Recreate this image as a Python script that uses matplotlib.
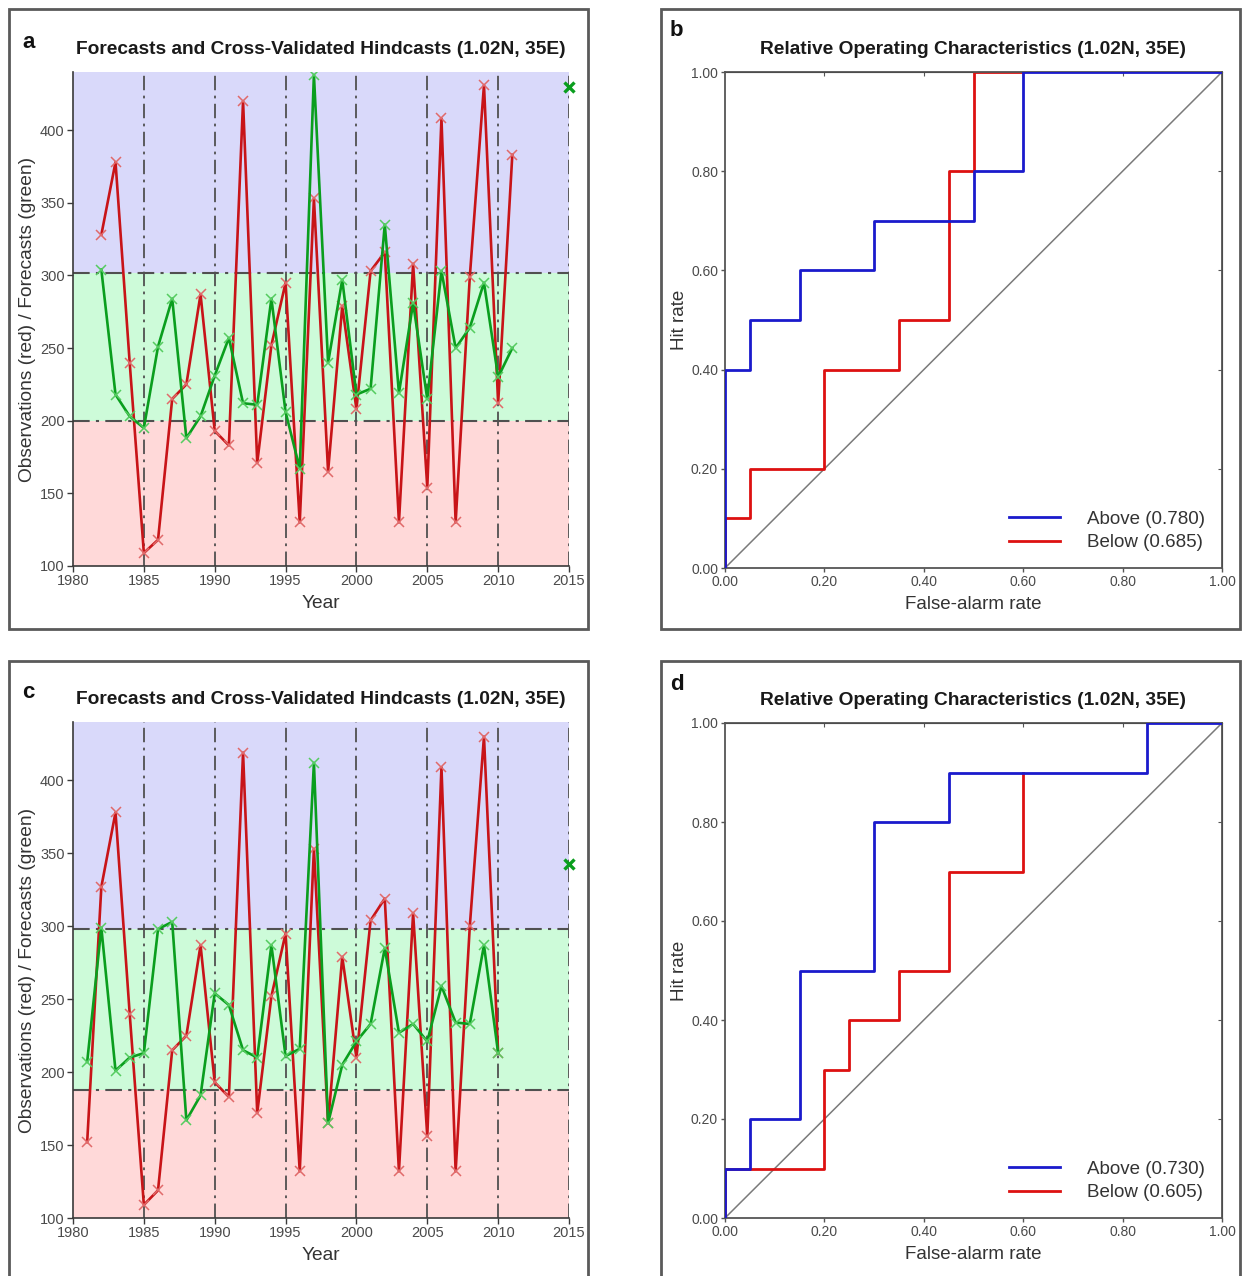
import numpy as np
import matplotlib
matplotlib.use("Agg")
import matplotlib.pyplot as plt
from matplotlib.patches import Rectangle
from matplotlib import font_manager

# ---- data ----
years_a = np.arange(1982, 2012)
obs_a = [328, 378, 240, 109, 118, 215, 225, 287, 193, 183, 420, 171, 252, 295, 130,
         353, 165, 279, 208, 303, 316, 130, 308, 154, 408, 130, 299, 431, 212, 383]
fcst_a = [304, 218, 203, 195, 251, 284, 188, 203, 231, 257, 212, 211, 284, 206, 167,
          438, 240, 297, 218, 222, 335, 219, 281, 215, 303, 250, 264, 295, 230, 250]
outlook_a = 430
terciles_a = [200, 302]

years_c = np.arange(1981, 2011)
obs_c = [152, 327, 378, 240, 109, 119, 215, 225, 287, 193, 183, 419, 172, 252, 295,
         132, 353, 165, 279, 210, 304, 319, 132, 309, 156, 409, 132, 300, 430, 213]
fcst_c = [207, 299, 201, 210, 213, 298, 303, 167, 184, 254, 246, 215, 210, 287, 211,
          216, 412, 165, 205, 221, 233, 285, 227, 233, 221, 259, 234, 233, 287, 213]
outlook_c = 343
terciles_c = [188, 298]
outlook_year = 2015

# ROC steps (false-alarm rate, hit rate), drawn with where='post'
far_above_b = [0, 0, 0.05, 0.15, 0.30, 0.50, 0.60, 1.00]
hit_above_b = [0, 0.4, 0.5, 0.6, 0.7, 0.8, 1.0, 1.0]
far_below_b = [0, 0, 0.05, 0.20, 0.35, 0.45, 0.50, 0.60]
hit_below_b = [0, 0.1, 0.2, 0.4, 0.5, 0.8, 1.0, 1.0]
area_b = (0.780, 0.685)

far_above_d = [0, 0, 0.05, 0.15, 0.30, 0.45, 0.85, 1.00]
hit_above_d = [0, 0.1, 0.2, 0.5, 0.8, 0.9, 1.0, 1.0]
far_below_d = [0, 0, 0.20, 0.25, 0.35, 0.45, 0.60, 0.60]
hit_below_d = [0, 0.1, 0.3, 0.4, 0.5, 0.7, 0.9, 0.9]
area_d = (0.730, 0.605)

# ---- fonts ----
names = {f.name for f in font_manager.fontManager.ttflist}
if "Liberation Sans Narrow" in names:
    title_font, title_size = "Liberation Sans Narrow", 16
else:
    title_font, title_size = "Liberation Sans", 13.8
plt.rcParams["font.family"] = ["Liberation Sans", "DejaVu Sans"]

W, H = 1242, 1276
fig = plt.figure(figsize=(W / 100, H / 100), dpi=100)


def rect(l, t, r, b):
    return [l / W, 1 - b / H, (r - l) / W, (b - t) / H]


# panel frames
for (l, t, r, b) in [(9, 9, 588, 629), (661, 9, 1240, 629),
                     (9, 661, 588, 1290), (661, 661, 1240, 1290)]:
    fig.patches.append(Rectangle((l / W, 1 - b / H), (r - l) / W, (b - t) / H,
                                 transform=fig.transFigure, fill=False,
                                 edgecolor="#5a5a5a", lw=2.0))

RED, RED_M = "#c81418", "#e06a6a"
GRN, GRN_M = "#0a9e1e", "#55cc60"
GRID = "#505050"
TICKC = "#4a4a4a"
LABELC = "#333333"
DASHDOT = (0, (8, 3, 1.5, 3))


def series_panel(ax, years, obs, fcst, outlook, terc, letter, ytop):
    ax.set_xlim(1980, 2015)
    ax.set_ylim(100, 440)
    ax.axhspan(100, terc[0], color="#ffd9d9", lw=0, zorder=0)
    ax.axhspan(terc[0], terc[1], color="#cdfbd9", lw=0, zorder=0)
    ax.axhspan(terc[1], 440, color="#d9d9fa", lw=0, zorder=0)
    for yr in range(1985, 2016, 5):
        ax.axvline(yr, color=GRID, lw=1.3, ls=DASHDOT, zorder=1)
    for t in terc:
        ax.axhline(t, color=GRID, lw=1.5, ls=DASHDOT, zorder=1)
    ax.plot(years, obs, color=RED, lw=1.9, marker="x", ms=7, mew=1.1,
            mec=RED_M, zorder=3)
    ax.plot(years, fcst, color=GRN, lw=1.9, marker="x", ms=7, mew=1.1,
            mec=GRN_M, zorder=4)
    ax.plot([outlook_year], [outlook], ls="none", marker="x", ms=7, mew=2.4,
            color=GRN, zorder=5, clip_on=False)
    for s in ["top", "right"]:
        ax.spines[s].set_visible(False)
    for s in ["left", "bottom"]:
        ax.spines[s].set_color("#3a3a3a")
        ax.spines[s].set_linewidth(1.2)
    ax.set_xticks(range(1980, 2016, 5))
    ax.set_yticks(range(100, 401, 50))
    ax.tick_params(direction="out", length=4, width=1, color="#3a3a3a",
                   labelsize=10.5, labelcolor=TICKC, pad=2)
    ax.set_xlabel("Year", fontsize=13.8, color=LABELC, labelpad=5)
    ax.set_ylabel("Observations (red) / Forecasts (green)", fontsize=13.8,
                  color=LABELC, labelpad=3)
    ax.set_title("Forecasts and Cross-Validated Hindcasts (1.02N, 35E)",
                 family=[title_font, "DejaVu Sans"], fontsize=title_size,
                 fontweight="bold", color="#1a1a1a", pad=13)
    fig.text(22 / W, 1 - ytop / H, letter, fontsize=16, fontweight="bold",
             va="center", ha="left", color="#111111")


def roc_panel(ax, fa, ha, fb, hb, areas, letter, ytop):
    ax.plot([0, 1], [0, 1], color="#7a7a7a", lw=1.1, zorder=1)
    ax.step(fb, hb, where="post", color="#dd1111", lw=2.0, zorder=2,
            label="Below (%.3f)" % areas[1])
    ax.step(fa, ha, where="post", color="#1a1acc", lw=2.0, zorder=3,
            label="Above (%.3f)" % areas[0])
    ax.set_xlim(0, 1)
    ax.set_ylim(0, 1)
    ticks = np.linspace(0, 1, 6)
    ax.set_xticks(ticks)
    ax.set_yticks(ticks)
    ax.set_xticklabels(["%.2f" % t for t in ticks])
    ax.set_yticklabels(["%.2f" % t for t in ticks])
    for s in ax.spines.values():
        s.set_color("#555555")
        s.set_linewidth(1.3)
    ax.tick_params(direction="out", length=3, width=1, color="#555555",
                   labelsize=10, labelcolor=TICKC, pad=2)
    top = ax.secondary_xaxis("top")
    top.set_xticks(ticks[1:-1])
    top.tick_params(direction="in", length=3, color="#555555", labeltop=False)
    right = ax.secondary_yaxis("right")
    right.set_yticks(ticks[1:-1])
    right.tick_params(direction="in", length=3, color="#555555", labelright=False)
    ax.set_xlabel("False-alarm rate", fontsize=13.5, color=LABELC, labelpad=5)
    ax.set_ylabel("Hit rate", fontsize=13.5, color=LABELC, labelpad=2)
    ax.set_title("Relative Operating Characteristics (1.02N, 35E)",
                 family=[title_font, "DejaVu Sans"], fontsize=title_size,
                 fontweight="bold", color="#1a1a1a", pad=13)
    h, l = ax.get_legend_handles_labels()
    leg = ax.legend(h[::-1], l[::-1], loc="lower right", frameon=False,
                    fontsize=13.5, handlelength=2.7, handletextpad=1.45,
                    labelspacing=0.33, borderaxespad=0.5)
    for txt in leg.get_texts():
        txt.set_color(LABELC)
    fig.text(670 / W, 1 - ytop / H, letter, fontsize=16, fontweight="bold",
             va="center", ha="left", color="#111111")


ax_a = fig.add_axes(rect(73, 72, 569, 566))
series_panel(ax_a, years_a, obs_a, fcst_a, outlook_a, terciles_a, "a", 43)

ax_b = fig.add_axes(rect(725, 72, 1222, 568))
roc_panel(ax_b, far_above_b, hit_above_b, far_below_b, hit_below_b, area_b, "b", 30)

ax_c = fig.add_axes(rect(73, 722, 569, 1218))
series_panel(ax_c, years_c, obs_c, fcst_c, outlook_c, terciles_c, "c", 692)

ax_d = fig.add_axes(rect(725, 723, 1222, 1218))
roc_panel(ax_d, far_above_d, hit_above_d, far_below_d, hit_below_d, area_d, "d", 684)

fig.savefig("out.png", dpi=100, facecolor="white")
